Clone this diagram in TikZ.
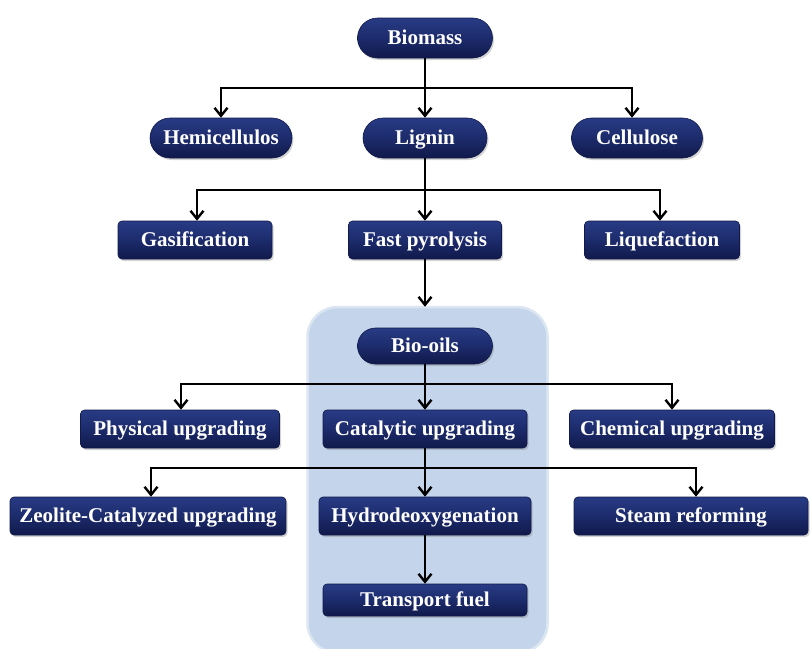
\documentclass[tikz,border=0pt]{standalone}
\usepackage{fontspec}
\setmainfont{Liberation Serif}
\usetikzlibrary{arrows.meta,shadows,calc}
\definecolor{navytop}{HTML}{283B84}
\definecolor{navymid}{HTML}{1C2B6C}
\definecolor{navybot}{HTML}{10194A}
\definecolor{panelfill}{HTML}{C4D5EB}
\definecolor{paneledge}{HTML}{DCE6F3}
\tikzset{
  boxbase/.style={inner sep=0pt, text=white, font=\bfseries\fontsize{21}{24}\selectfont,
    text height=15pt, text depth=2pt,
    top color=navytop, bottom color=navybot, middle color=navymid, draw=navybot, line width=0.6pt,
    drop shadow={opacity=0.35, shadow xshift=1.5pt, shadow yshift=-2pt}},
  pill/.style={boxbase, rounded corners=20pt, minimum height=40pt},
  stepbox/.style={boxbase, rounded corners=4pt, minimum height=38pt},
  arr/.style={line width=2.4pt, -{Straight Barb[length=8pt,width=13pt,line width=2.4pt]}},
}
\begin{document}
\begin{tikzpicture}[x=1pt,y=-1pt]
\useasboundingbox (0,0) rectangle (810,648);
\begin{scope}
\clip (0,0) rectangle (810,648);
% shaded panel holding the bio-oil stages
\node (panel) [draw=paneledge, line width=2.5pt, fill=panelfill, rounded corners=30pt,
  minimum width=240pt, minimum height=346pt, inner sep=0pt,
  drop shadow={opacity=0.15, shadow xshift=1pt, shadow yshift=-1pt}] at (427.5,480) {};
\end{scope}

% top level
\node (biomass) [pill, minimum width=135pt] at (425,38) {Biomass};
\node (hemi) [pill, minimum width=142pt] at (221,138) {Hemicellulos};
\node (lignin) [pill, minimum width=124pt] at (425,138) {Lignin};
\node (cell) [pill, minimum width=131pt] at (637,138) {Cellulose};

% conversion routes
\node (gas) [stepbox, minimum width=154pt] at (195,240) {Gasification};
\node (fast) [stepbox, minimum width=153pt] at (425,240) {Fast pyrolysis};
\node (liq) [stepbox, minimum width=155pt] at (662,240) {Liquefaction};

% bio-oils and upgrading
\node (biooils) [pill, minimum width=135pt, minimum height=36pt, rounded corners=18pt] at (425,346) {Bio-oils};
\node (phys) [stepbox, minimum width=199pt] at (180,429) {Physical upgrading};
\node (cat) [stepbox, minimum width=204pt] at (425,429) {Catalytic upgrading};
\node (chem) [stepbox, minimum width=205pt] at (672,429) {Chemical upgrading};

\node (zeo) [stepbox, minimum width=276pt] at (148,516) {Zeolite-Catalyzed upgrading};
\node (hdo) [stepbox, minimum width=212pt] at (425,516) {Hydrodeoxygenation};
\node (steam) [stepbox, minimum width=234pt] at (691,516) {Steam reforming};
\node (fuel) [stepbox, minimum width=204pt, minimum height=32pt] at (425,600) {Transport fuel};

% junction points of the branching connectors
\coordinate (j1) at (425,88);
\coordinate (j2) at (425,190);
\coordinate (j3) at (425,384);
\coordinate (j4) at (425,468);

% biomass components
\draw[arr] (biomass.south) -- (lignin.north);
\draw[arr] (j1) -| (hemi.north);
\draw[arr] (j1) -| ([xshift=-5pt]cell.north);

% lignin routes
\draw[arr] (lignin.south) -- (fast.north);
\draw[arr] (j2) -| ([xshift=2pt]gas.north);
\draw[arr] (j2) -| ([xshift=-2pt]liq.north);
\draw[arr] (fast.south) -- ([yshift=-1pt]fast.south |- panel.north);

% upgrading routes
\draw[arr] (biooils.south) -- (cat.north);
\draw[arr] (j3) -| ([xshift=1pt]phys.north);
\draw[arr] (j3) -| (chem.north);

\draw[arr] (cat.south) -- (hdo.north);
\draw[arr] (j4) -| ([xshift=3pt]zeo.north);
\draw[arr] (j4) -| ([xshift=5pt]steam.north);

\draw[arr] (hdo.south) -- (fuel.north);
\end{tikzpicture}
\end{document}
